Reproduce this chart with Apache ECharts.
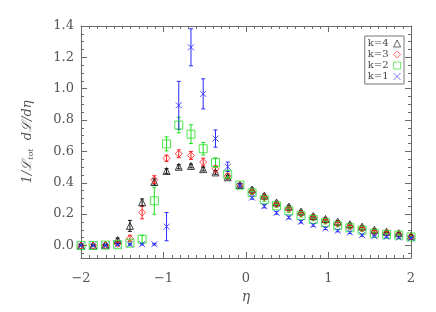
<!DOCTYPE html>
<html>
<head>
<meta charset="utf-8">
<script src="https://cdn.jsdelivr.net/npm/echarts@6/dist/echarts.min.js"></script>
<style>html,body{margin:0;padding:0;background:#fff}#c{width:436px;height:312px}</style>
</head>
<body>
<div id="c"></div>
<script>
// eta bin centres
var etaBins = [-2.000, -1.852, -1.704, -1.556, -1.407, -1.259, -1.111, -0.963, -0.815, -0.667, -0.519, -0.370, -0.222, -0.074,
               0.074, 0.222, 0.370, 0.519, 0.667, 0.815, 0.963, 1.111, 1.259, 1.407, 1.556, 1.704, 1.852, 2.000];
// k=4 (black triangles)
var k4Values = [0.000, 0.000, 0.005, 0.035, 0.125, 0.275, 0.405, 0.475, 0.502, 0.507, 0.487, 0.466, 0.435, 0.385,
                0.357, 0.318, 0.274, 0.248, 0.216, 0.188, 0.169, 0.152, 0.135, 0.120, 0.100, 0.088, 0.078, 0.062];
var k4Errors = [0.003, 0.003, 0.004, 0.012, 0.035, 0.022, 0.020, 0.015, 0.013, 0.012, 0.012, 0.012, 0.012, 0.010,
                0.009, 0.009, 0.008, 0.008, 0.008, 0.008, 0.007, 0.007, 0.007, 0.006, 0.006, 0.006, 0.006, 0.006];
// k=3 (red diamonds)
var k3Values = [0.000, 0.000, 0.002, 0.010, 0.045, 0.210, 0.420, 0.556, 0.585, 0.574, 0.532, 0.489, 0.443, 0.385,
                0.344, 0.307, 0.263, 0.232, 0.204, 0.179, 0.158, 0.140, 0.120, 0.109, 0.088, 0.081, 0.072, 0.058];
var k3Errors = [0.003, 0.003, 0.004, 0.008, 0.020, 0.040, 0.025, 0.020, 0.025, 0.025, 0.025, 0.020, 0.015, 0.010,
                0.009, 0.009, 0.008, 0.008, 0.008, 0.008, 0.007, 0.007, 0.007, 0.006, 0.006, 0.006, 0.006, 0.006];
// k=2 (green squares)
var k2Values = [0.000, 0.000, 0.002, 0.005, 0.015, 0.040, 0.285, 0.648, 0.768, 0.710, 0.617, 0.529, 0.454, 0.385,
                0.336, 0.292, 0.253, 0.221, 0.190, 0.166, 0.146, 0.126, 0.113, 0.098, 0.078, 0.071, 0.066, 0.054];
var k2Errors = [0.003, 0.003, 0.004, 0.006, 0.012, 0.025, 0.086, 0.045, 0.050, 0.060, 0.040, 0.030, 0.020, 0.012,
                0.010, 0.010, 0.009, 0.009, 0.008, 0.008, 0.008, 0.007, 0.007, 0.007, 0.006, 0.006, 0.006, 0.006];
// k=1 (blue crosses)
var k1Values = [0.000, 0.000, 0.000, 0.006, 0.007, 0.008, 0.008, 0.120, 0.894, 1.264, 0.967, 0.682, 0.502, 0.380,
                0.305, 0.250, 0.208, 0.179, 0.151, 0.130, 0.109, 0.094, 0.083, 0.066, 0.059, 0.055, 0.051, 0.046];
var k1Errors = [0.002, 0.002, 0.002, 0.004, 0.005, 0.005, 0.005, 0.090, 0.153, 0.118, 0.096, 0.055, 0.030, 0.015,
                0.010, 0.010, 0.009, 0.009, 0.008, 0.008, 0.008, 0.007, 0.007, 0.007, 0.006, 0.006, 0.006, 0.006];

var yMajorTicks = [0.0, 0.2, 0.4, 0.6, 0.8, 1.0, 1.2, 1.4];
var yMinorTicks = [-0.05, 0.05, 0.10, 0.15, 0.25, 0.30, 0.35, 0.45, 0.50, 0.55, 0.65, 0.70, 0.75,
                   0.85, 0.90, 0.95, 1.05, 1.10, 1.15, 1.25, 1.30, 1.35];

var axisColor = '#6a6a6a';
var labelFont = 'DejaVu Serif';

function pts(vals) { return etaBins.map(function (x, i) { return [x, vals[i]]; }); }
function errs(vals, e) { return etaBins.map(function (x, i) { return [x, vals[i] - e[i], vals[i] + e[i]]; }); }

function errSeries(name, vals, e, color) {
  return {
    type: 'custom', name: name + '_err', silent: true, z: 1,
    data: errs(vals, e),
    renderItem: function (params, api) {
      var lo = api.coord([api.value(0), api.value(1)]);
      var hi = api.coord([api.value(0), api.value(2)]);
      var w = 2;
      var st = { stroke: color, lineWidth: 1 };
      return { type: 'group', children: [
        { type: 'line', shape: { x1: lo[0], y1: lo[1], x2: hi[0], y2: hi[1] }, style: st },
        { type: 'line', shape: { x1: lo[0] - w, y1: lo[1], x2: lo[0] + w, y2: lo[1] }, style: st },
        { type: 'line', shape: { x1: hi[0] - w, y1: hi[1], x2: hi[0] + w, y2: hi[1] }, style: st }
      ]};
    }
  };
}

function markSeries(name, vals, color, symbol, size) {
  return {
    type: 'scatter', name: name, z: 3,
    data: pts(vals),
    symbol: symbol, symbolSize: size,
    itemStyle: { color: 'rgba(255,255,255,0)', borderColor: color, borderWidth: 1 }
  };
}

function fmtX(v) { return v < 0 ? '\u2212' + (-v) : String(v); }

var xBase = { type: 'value', min: -2, max: 2, interval: 1, gridIndex: 0,
  axisLine: { show: true, onZero: false, lineStyle: { color: axisColor } },
  splitLine: { show: false } };
var yBase = { type: 'value', min: -0.08, max: 1.4, gridIndex: 0,
  axisLine: { show: true, onZero: false, lineStyle: { color: axisColor } },
  splitLine: { show: false } };

function merge(a, b) { var o = {}; for (var k in a) o[k] = a[k]; for (var k2 in b) o[k2] = b[k2]; return o; }

var cBlack = '#111111', cRed = '#ff2020', cGreen = '#22e022', cBlue = '#2a2aff';
var crossPath = 'path://M0,0L10,10M10,0L0,10';

var option = {
  animation: false,
  backgroundColor: '#ffffff',
  grid: { left: 81, right: 25, top: 26, bottom: 54 },
  xAxis: [
    merge(xBase, { position: 'bottom',
      axisTick: { show: true, inside: true, length: 6, lineStyle: { color: axisColor } },
      minorTick: { show: true, splitNumber: 10, length: 3, lineStyle: { color: axisColor } },
      axisLabel: { show: true, color: '#555', fontFamily: labelFont, fontSize: 13, margin: 14, formatter: fmtX },
      name: '\u03b7', nameLocation: 'middle', nameGap: 30,
      nameTextStyle: { color: '#555', fontFamily: labelFont, fontSize: 14, fontStyle: 'italic' } }),
    merge(xBase, { position: 'top',
      axisTick: { show: true, inside: true, length: 6, lineStyle: { color: axisColor } },
      minorTick: { show: true, splitNumber: 10, length: 3, lineStyle: { color: axisColor } },
      axisLabel: { show: false } })
  ],
  yAxis: [
    merge(yBase, { position: 'left',
      axisTick: { show: true, inside: true, length: 6, customValues: yMajorTicks, lineStyle: { color: axisColor } },
      axisLabel: { show: true, customValues: yMajorTicks, color: '#555', fontFamily: labelFont, fontSize: 13, margin: 7,
        formatter: function (v) { return v.toFixed(1); } },
      name: '1/\u2112{sub|tot}  d\u2112/d\u03b7', nameLocation: 'middle', nameGap: 46, nameRotate: 90,
      nameTextStyle: { color: '#555', fontFamily: labelFont, fontSize: 13, fontStyle: 'italic',
        rich: { sub: { fontSize: 8, fontFamily: labelFont, fontStyle: 'italic', color: '#555', verticalAlign: 'bottom', padding: [6, 0, 0, 0] } } } }),
    merge(yBase, { position: 'left',
      axisLine: { show: false, onZero: false },
      axisTick: { show: true, inside: true, length: 3, customValues: yMinorTicks, lineStyle: { color: axisColor } },
      axisLabel: { show: false } }),
    merge(yBase, { position: 'right',
      axisTick: { show: true, inside: true, length: 6, customValues: yMajorTicks, lineStyle: { color: axisColor } },
      axisLabel: { show: false } }),
    merge(yBase, { position: 'right',
      axisLine: { show: false, onZero: false },
      axisTick: { show: true, inside: true, length: 3, customValues: yMinorTicks, lineStyle: { color: axisColor } },
      axisLabel: { show: false } })
  ],
  legend: {
    data: ['k=4', 'k=3', 'k=2', 'k=1'],
    orient: 'vertical', align: 'right', right: 32, top: 36,
    backgroundColor: '#ffffff', borderColor: '#777', borderWidth: 1, borderRadius: 0,
    padding: [2, 3, 2, 3], itemGap: 0, itemWidth: 7, itemHeight: 7,
    itemStyle: { borderWidth: 0.8 },
    textStyle: { fontFamily: labelFont, fontSize: 10, color: '#444', lineHeight: 11 },
    selectedMode: false
  },
  series: [
    errSeries('k=4', k4Values, k4Errors, cBlack),
    errSeries('k=3', k3Values, k3Errors, cRed),
    errSeries('k=2', k2Values, k2Errors, cGreen),
    errSeries('k=1', k1Values, k1Errors, cBlue),
    markSeries('k=4', k4Values, cBlack, 'triangle', 7),
    markSeries('k=3', k3Values, cRed, 'diamond', 7),
    markSeries('k=2', k2Values, cGreen, 'rect', 8),
    markSeries('k=1', k1Values, cBlue, crossPath, 6)
  ]
};
echarts.init(document.getElementById('c'), null, { renderer: 'canvas' }).setOption(option);
</script>
</body>
</html>
